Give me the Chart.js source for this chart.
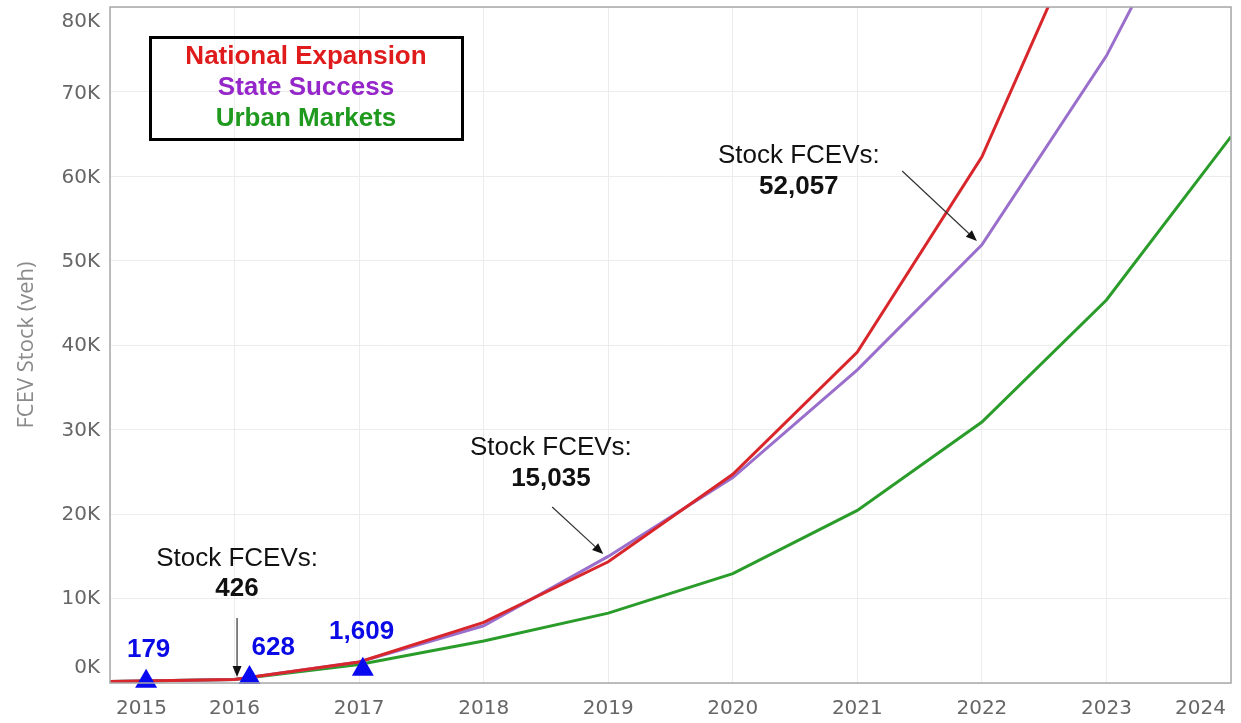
<!DOCTYPE html>
<html>
<head>
<meta charset="utf-8">
<script src="https://cdn.jsdelivr.net/npm/chart.js@4.4.1/dist/chart.umd.min.js"></script>
<style>
  html, body { margin: 0; padding: 0; background: #fff; }
  #wrap { position: relative; width: 1241px; height: 723px; }
</style>
</head>
<body>
<div id="wrap"><canvas id="fcev" width="1241" height="723"></canvas></div>
<script>
// 年份与三种情景的 FCEV 保有量
const years = [2015, 2016, 2017, 2018, 2019, 2020, 2021, 2022, 2023, 2024];
const nationalExpansion = [180, 430, 2500, 7200, 14400, 24800, 39300, 62500, 96000, 128000];
const stateSuccess = [180, 430, 2500, 6800, 15035, 24400, 37200, 52057, 74500, 103000];
const urbanMarkets = [180, 430, 2200, 5000, 8300, 13000, 20500, 31000, 45500, 64900];

// 历史实际值（蓝色三角）
const histX = [2015.29, 2016.12, 2017.03];
const histY = [179, 628, 1609];
const histLabels = ['179', '628', '1,609'];

// 刻度
const yTicks = [0, 10000, 20000, 30000, 40000, 50000, 60000, 70000, 80000];
const xTicks = [2015, 2016, 2017, 2018, 2019, 2020, 2021, 2022, 2023, 2024];

// 图例
const legendNames = ['National Expansion', 'State Success', 'Urban Markets'];
const legendColors = ['#e01b1b', '#9526c9', '#1f9a1f'];

// 注释（数据坐标：文字中心 x，两行基线 y，箭头起点和终点）
const notes = [
  { x: 2016.02, y1: 13900, y2: 10330, label: '426', from: [2016.02, 7720], to: [2016.02, 700] },
  { x: 2018.54, y1: 27080, y2: 23400, label: '15,035', from: [2018.55, 20900], to: [2018.96, 15320] },
  { x: 2020.53, y1: 61770, y2: 58090, label: '52,057', from: [2021.36, 60820], to: [2021.96, 52500] },
];
const histLabelPos = [[2015.31, 3090], [2016.31, 3330], [2017.02, 5230]];

const toXY = (xs, ys) => xs.map((x, i) => ({ x, y: ys[i] }));

function fmtK(v) {
  return `${Math.round(v / 1000)}K`;
}

function drawArrow(ctx, x1, y1, x2, y2) {
  const ang = Math.atan2(y2 - y1, x2 - x1);
  const len = 11, half = 4.5;
  const bx = x2 - Math.cos(ang) * len;
  const by = y2 - Math.sin(ang) * len;
  ctx.strokeStyle = '#333';
  ctx.fillStyle = '#111';
  ctx.lineWidth = 1.2;
  ctx.beginPath();
  ctx.moveTo(x1, y1);
  ctx.lineTo(bx, by);
  ctx.stroke();
  ctx.beginPath();
  ctx.moveTo(x2, y2);
  ctx.lineTo(bx + Math.sin(ang) * half, by - Math.cos(ang) * half);
  ctx.lineTo(bx - Math.sin(ang) * half, by + Math.cos(ang) * half);
  ctx.closePath();
  ctx.fill();
}

// 边框、刻度文字、图例和注释
const decor = {
  id: 'decor',
  afterDatasetsDraw(chart) {
    const { ctx, chartArea: a, scales: { x, y } } = chart;
    ctx.save();

    // 绘图区边框
    ctx.strokeStyle = '#a8a8a8';
    ctx.lineWidth = 1.5;
    ctx.strokeRect(a.left, a.top, a.right - a.left, a.bottom - a.top);

    // y 轴刻度（两端夹在框内）
    ctx.font = '20px "DejaVu Sans"';
    ctx.fillStyle = '#666';
    ctx.textAlign = 'right';
    ctx.textBaseline = 'middle';
    yTicks.forEach(v => {
      let py = y.getPixelForValue(v);
      py = Math.min(Math.max(py, a.top + 15), a.bottom - 15);
      ctx.fillText(fmtK(v), 100, py);
    });

    // x 轴刻度
    ctx.textAlign = 'center';
    xTicks.forEach(v => {
      const t = String(v);
      const w = ctx.measureText(t).width;
      let px = x.getPixelForValue(v);
      px = Math.min(Math.max(px, a.left + w / 2 + 6), a.right - w / 2 - 5);
      ctx.fillText(t, px, 709);
    });

    // y 轴标题
    ctx.save();
    ctx.translate(27, (a.top + a.bottom) / 2);
    ctx.rotate(-Math.PI / 2);
    ctx.font = '22px "Open Sans"';
    ctx.fillStyle = '#8a8a8a';
    ctx.fillText('FCEV Stock (veh)', 0, 0);
    ctx.restore();

    // 图例框
    ctx.strokeStyle = '#000';
    ctx.lineWidth = 3;
    ctx.strokeRect(150.5, 37.5, 312, 102);
    ctx.font = 'bold 26px "Liberation Sans"';
    ctx.textBaseline = 'alphabetic';
    legendNames.forEach((name, i) => {
      ctx.fillStyle = legendColors[i];
      ctx.fillText(name, 306, 64 + i * 31);
    });

    // Stock FCEVs 注释
    notes.forEach(n => {
      const cx = x.getPixelForValue(n.x);
      ctx.fillStyle = '#111';
      ctx.font = '26px "Liberation Sans"';
      ctx.fillText('Stock FCEVs:', cx, y.getPixelForValue(n.y1));
      ctx.font = 'bold 26px "Liberation Sans"';
      ctx.fillText(n.label, cx, y.getPixelForValue(n.y2));
      drawArrow(ctx,
        x.getPixelForValue(n.from[0]), y.getPixelForValue(n.from[1]),
        x.getPixelForValue(n.to[0]), y.getPixelForValue(n.to[1]));
    });

    // 历史值标签
    ctx.fillStyle = '#0a0ae6';
    ctx.font = 'bold 26px "Liberation Sans"';
    histLabels.forEach((t, i) => {
      const [lx, ly] = histLabelPos[i];
      ctx.fillText(t, x.getPixelForValue(lx), y.getPixelForValue(ly));
    });

    ctx.restore();
  },
};

const lineStyle = {
  type: 'line',
  borderWidth: 3,
  pointRadius: 0,
  tension: 0,
  fill: false,
  clip: 0,
};

new Chart(document.getElementById('fcev').getContext('2d'), {
  type: 'line',
  data: {
    datasets: [
      {
        type: 'scatter',
        label: 'Historical',
        data: toXY(histX, histY),
        pointStyle: 'triangle',
        pointRadius: 12.7,
        backgroundColor: '#0a0af0',
        borderWidth: 0,
        clip: false,
      },
      { ...lineStyle, label: legendNames[0], data: toXY(years, nationalExpansion), borderColor: '#d8262b' },
      { ...lineStyle, label: legendNames[1], data: toXY(years, stateSuccess), borderColor: '#9a6fcc' },
      { ...lineStyle, label: legendNames[2], data: toXY(years, urbanMarkets), borderColor: '#2a9c2a' },
    ],
  },
  options: {
    responsive: false,
    animation: false,
    devicePixelRatio: 1,
    layout: { autoPadding: false, padding: { top: 7, right: 10, left: 0, bottom: 0 } },
    plugins: {
      legend: { display: false },
      tooltip: { enabled: false },
    },
    scales: {
      x: {
        type: 'linear',
        min: 2015,
        max: 2024,
        ticks: { display: false, stepSize: 1 },
        grid: { color: '#ececec', lineWidth: 1, drawTicks: false },
        border: { display: false },
        afterFit: (s) => { s.height = 40; s.paddingLeft = 0; s.paddingRight = 0; },
      },
      y: {
        type: 'linear',
        min: 0,
        max: 80300,
        ticks: { display: false, stepSize: 10000 },
        grid: { color: '#ececec', lineWidth: 1, drawTicks: false },
        border: { display: false },
        afterFit: (s) => { s.width = 110; s.paddingTop = 0; s.paddingBottom = 0; },
      },
    },
  },
  plugins: [decor],
});
</script>
</body>
</html>
